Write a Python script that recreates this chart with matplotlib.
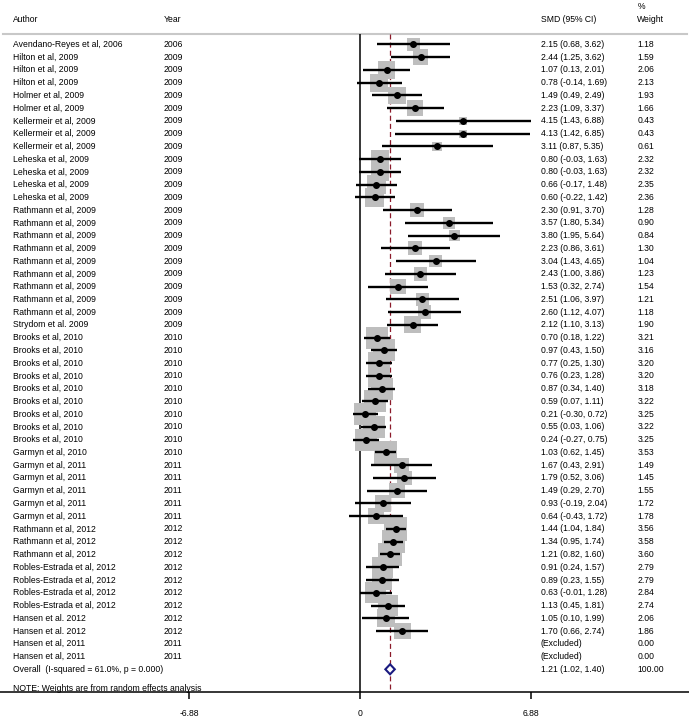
#Forest plot of standardised mean differences

import matplotlib
matplotlib.use("Agg")
import matplotlib.pyplot as plt
from matplotlib.patches import Rectangle, Polygon
import matplotlib.transforms as mtransforms
import numpy as np

plt.rcParams['font.family'] = ['Liberation Sans', 'DejaVu Sans']

#Study data
authors = ["Avendano-Reyes et al, 2006", "Hilton et al, 2009", "Hilton et al, 2009", "Hilton et al, 2009",
           "Holmer et al, 2009", "Holmer et al, 2009",
           "Kellermeir et al, 2009", "Kellermeir et al, 2009", "Kellermeir et al, 2009",
           "Leheska et al, 2009", "Leheska et al, 2009", "Leheska et al, 2009", "Leheska et al, 2009"] + \
          ["Rathmann et al, 2009"] * 9 + ["Strydom et al. 2009"] + ["Brooks et al, 2010"] * 9 + \
          ["Garmyn et al, 2010"] + ["Garmyn et al, 2011"] * 5 + ["Rathmann et al, 2012"] * 3 + \
          ["Robles-Estrada et al, 2012"] * 4 + ["Hansen et al. 2012"] * 2 + ["Hansen et al, 2011"] * 2
years = [2006] + [2009] * 22 + [2010] * 10 + [2011] * 5 + [2012] * 9 + [2011] * 2
smd = [2.15, 2.44, 1.07, 0.78, 1.49, 2.23, 4.15, 4.13, 3.11, 0.80, 0.80, 0.66, 0.60,
       2.30, 3.57, 3.80, 2.23, 3.04, 2.43, 1.53, 2.51, 2.60, 2.12,
       0.70, 0.97, 0.77, 0.76, 0.87, 0.59, 0.21, 0.55, 0.24, 1.03,
       1.67, 1.79, 1.49, 0.93, 0.64, 1.44, 1.34, 1.21,
       0.91, 0.89, 0.63, 1.13, 1.05, 1.70, None, None]
lo = [0.68, 1.25, 0.13, -0.14, 0.49, 1.09, 1.43, 1.42, 0.87, -0.03, -0.03, -0.17, -0.22,
      0.91, 1.80, 1.95, 0.86, 1.43, 1.00, 0.32, 1.06, 1.12, 1.10,
      0.18, 0.43, 0.25, 0.23, 0.34, 0.07, -0.30, 0.03, -0.27, 0.62,
      0.43, 0.52, 0.29, -0.19, -0.43, 1.04, 0.95, 0.82,
      0.24, 0.23, -0.01, 0.45, 0.10, 0.66, None, None]
hi = [3.62, 3.62, 2.01, 1.69, 2.49, 3.37, 6.88, 6.85, 5.35, 1.63, 1.63, 1.48, 1.42,
      3.70, 5.34, 5.64, 3.61, 4.65, 3.86, 2.74, 3.97, 4.07, 3.13,
      1.22, 1.50, 1.30, 1.28, 1.40, 1.11, 0.72, 1.06, 0.75, 1.45,
      2.91, 3.06, 2.70, 2.04, 1.72, 1.84, 1.74, 1.60,
      1.57, 1.55, 1.28, 1.81, 1.99, 2.74, None, None]
weights = [1.18, 1.59, 2.06, 2.13, 1.93, 1.66, 0.43, 0.43, 0.61, 2.32, 2.32, 2.35, 2.36,
           1.28, 0.90, 0.84, 1.30, 1.04, 1.23, 1.54, 1.21, 1.18, 1.90,
           3.21, 3.16, 3.20, 3.20, 3.18, 3.22, 3.25, 3.22, 3.25, 3.53,
           1.49, 1.45, 1.55, 1.72, 1.78, 3.56, 3.58, 3.60,
           2.79, 2.79, 2.84, 2.74, 2.06, 1.86, 0.00, 0.00]

overall = 1.21
overall_lo = 1.02
overall_hi = 1.40
xticks = [-6.88, 0, 6.88]

fs = 6.2
fig = plt.figure(figsize=(6.89, 7.2), dpi=100)
ax = fig.add_axes([0, 0.0389, 1, 0.9611])
ax.set_xlim(-14.484, 13.237)
ax.set_ylim(50.78, -3.473)
for s in ['top', 'left', 'right']:
    ax.spines[s].set_visible(False)
ax.spines['bottom'].set_linewidth(1.1)
ax.set_yticks([])
ax.set_xticks(xticks)
ax.set_xticklabels(['-6.88', '0', '6.88'])
ax.tick_params(axis='x', length=5, width=1.1, pad=7, labelsize=fs)

tr = mtransforms.blended_transform_factory(ax.transAxes, ax.transData)
col_author = 0.019
col_year = 0.237
col_smd = 0.785
col_wt = 0.925

#Header
ax.text(col_author, -1.98, "Author", transform=tr, fontsize=fs, va='center')
ax.text(col_year, -1.98, "Year", transform=tr, fontsize=fs, va='center')
ax.text(col_smd, -1.98, "SMD (95% CI)", transform=tr, fontsize=fs, va='center')
ax.text(col_wt, -3.0, "%", transform=tr, fontsize=fs, va='center')
ax.text(col_wt, -1.98, "Weight", transform=tr, fontsize=fs, va='center')
ax.plot([0.004, 0.997], [-0.81, -0.81], transform=tr, color='#C8C8C8', lw=1.5, clip_on=False)

#Reference lines
ax.vlines(0, -0.81, 50.78, color='black', lw=1.1)
ax.vlines(overall, -0.81, 50.78, color='#8B1A2A', lw=0.9, linestyles=(0, (4, 2.5)))

px_x = 24.85  #pixels per unit
px_y = 12.755  #pixels per row
for i in range(len(authors)):
    ax.text(col_author, i, authors[i], transform=tr, fontsize=fs, va='center')
    ax.text(col_year, i, str(years[i]), transform=tr, fontsize=fs, va='center')
    if smd[i] is None:
        ax.text(col_smd, i, "(Excluded)", transform=tr, fontsize=fs, va='center')
    else:
        ax.text(col_smd, i, "%.2f (%.2f, %.2f)" % (smd[i], lo[i], hi[i]),
                transform=tr, fontsize=fs, va='center')
        side = 12.3 * np.sqrt(weights[i])
        w = side / px_x
        h = side / px_y
        ax.add_patch(Rectangle((smd[i] - w / 2, i - h / 2), w, h, facecolor='#BEBEBE',
                               edgecolor='none', zorder=2))
        ax.plot([lo[i], hi[i]], [i, i], color='black', lw=1.7, zorder=3, solid_capstyle='butt')
        ax.plot(smd[i], i, 'o', color='black', ms=4, zorder=4)
    ax.text(col_wt, i, "%.2f" % weights[i], transform=tr, fontsize=fs, va='center')

#Overall
n = len(authors)
ax.text(col_author, n, "Overall  (I-squared = 61.0%, p = 0.000)", transform=tr, fontsize=fs, va='center')
ax.text(col_smd, n, "%.2f (%.2f, %.2f)" % (overall, overall_lo, overall_hi), transform=tr,
        fontsize=fs, va='center')
ax.text(col_wt, n, "100.00", transform=tr, fontsize=fs, va='center')
ax.add_patch(Polygon([(overall_lo, n), (overall, n - 0.39), (overall_hi, n), (overall, n + 0.39)],
                     closed=True, facecolor='white', edgecolor='#1A1A80', lw=1.5, zorder=5))

ax.text(col_author, n + 1.5, "NOTE: Weights are from random effects analysis", transform=tr,
        fontsize=fs, va='center')

plt.savefig("out.png", dpi=100)
